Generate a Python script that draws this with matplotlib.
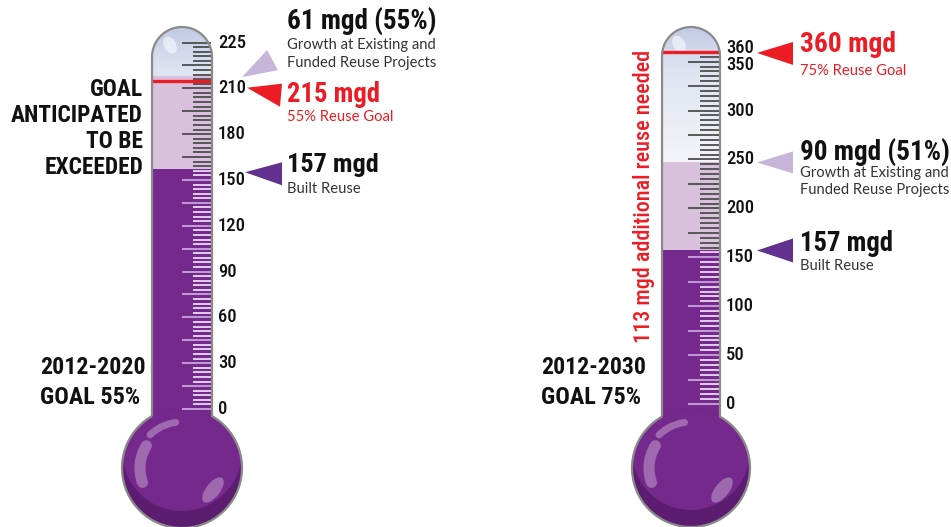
import matplotlib.pyplot as plt
import numpy as np
from matplotlib import font_manager
from matplotlib.path import Path
from matplotlib.patches import Circle, Ellipse, PathPatch
from matplotlib.transforms import Affine2D
from matplotlib.colors import LinearSegmentedColormap

# fuentes: se busca una condensada para numeros y titulos
entries = font_manager.fontManager.ttflist
names = {f.name for f in entries}
STRETCH = 'normal'
if 'Liberation Sans Narrow' in names:
    COND = 'Liberation Sans Narrow'
elif 'Roboto Condensed' in names:
    COND = 'Roboto Condensed'
elif any(f.name == 'DejaVu Sans' and f.stretch == 'condensed' for f in entries):
    COND, STRETCH = 'DejaVu Sans', 'condensed'
else:
    COND = 'Roboto'
SMALL = 'Lato' if 'Lato' in names else 'DejaVu Sans'

# datos
periods = ['2012-2020', '2012-2030']
goal_pct = ['55%', '75%']
goal_mgd = [215, 360]
built_mgd = [157, 157]
growth_mgd = [61, 90]
growth_pct = ['55%', '51%']
tick_vals = [[0, 30, 60, 90, 120, 150, 180, 210, 240],
             [0, 50, 100, 150, 200, 250, 300, 350, 360]]
tick_labels = [['0', '30', '60', '90', '120', '150', '180', '210', '225'],
               ['0', '50', '100', '150', '200', '250', '300', '350', '360']]
exceeded_lines = ['GOAL', 'ANTICIPATED', 'TO BE', 'EXCEEDED']

# colores
PURPLE = '#76298d'
DARK = '#5c1d70'
LIGHT = '#d9c1de'
RED = '#ec1c24'
TRI_LIGHT = '#c6b5d9'
TRI_PURPLE = '#62308f'
GRAY = '#8a8a8a'

W, H = 951, 527
fig = plt.figure(figsize=(W / 100, H / 100), dpi=100)
renderer = fig.canvas.get_renderer()
to_fit = []  # (texto, ancho objetivo en pixeles)


def fit(t, width):
    to_fit.append((t, width))
    return t


def fit_size(sample, width, **kw):
    t = fig.text(0, 0, sample, fontsize=20, **kw)
    w = t.get_window_extent(renderer).width
    t.remove()
    return 20 * width / w


TICK_FS = fit_size('210', 28, family=COND, fontstretch=STRETCH, fontweight='medium')
GOAL_FS = fit_size('ANTICIPATED', 132, family=COND, fontstretch=STRETCH, fontweight='bold')

# geometria de cada termometro (pixeles, y hacia abajo)
layout = [
    dict(cx=182, hw=30, zero=409, k=1.527, by=468, r=60, cy=57,
         major=15, minor=3, top=240, long_len=30, short_len=19, text_x=287,
         tri_growth=[(242, 1), (267, -26), (278, -6)],
         tri_goal=[(247, 7), (282, 3), (280, 26)],
         tri_built=[(245, 3), (282, -7), (282, 16)],
         growth_txt=[-54, -31, -13], goal_txt=[14, 36], built_txt=[-4, 20],
         widths=[150, 93, 92], nudge={}),
    dict(cx=691, hw=29, zero=404, k=0.978, by=468, r=59, cy=56,
         major=25, minor=5, top=355, long_len=32, short_len=20, text_x=800,
         tri_growth=[(757, 0), (793, -11), (793, 11)],
         tri_goal=[(757, 1), (793, -10), (793, 13)],
         tri_built=[(757, 0), (793, -12), (793, 12)],
         growth_txt=[-10, 11, 28], goal_txt=[-7, 19], built_txt=[-7, 16],
         widths=[150, 96, 93], nudge={360: 4, 350: -3}),
]

glass = LinearSegmentedColormap.from_list(
    'glass', [(0, '#c2cbe5'), (0.10, '#dfe4f1'), (0.30, '#f3f4f8'), (1, '#f5f5f8')])


def thermometer(i, L):
    ax = fig.add_axes([0, 0, 1, 1])
    ax.axis('off')
    k, zero = L['k'], L['zero']
    pxT = Affine2D().scale(1, -1.0 / k).translate(0, zero / k) + ax.transData
    cx, hw, r, by, cy = L['cx'], L['hw'], L['r'], L['by'], L['cy']

    # contorno del tubo y del bulbo
    jy = by - np.sqrt(r ** 2 - hw ** 2)
    t = np.linspace(np.pi, 0, 60)
    th0 = np.degrees(np.arctan2(jy - by, hw))
    a = np.radians(np.linspace(th0, 180 - th0, 150))
    xs = np.concatenate([[cx - hw], cx + hw * np.cos(t), [cx + hw], cx + r * np.cos(a)])
    ys = np.concatenate([[jy], cy - hw * np.sin(t), [jy], by + r * np.sin(a)])
    outline = Path(np.column_stack([xs, ys]))

    v_bulb = (zero - by) / k
    v_capt = (zero - (cy - hw)) / k

    # vidrio
    grad = np.linspace(0, 1, 256).reshape(-1, 1)
    im = ax.imshow(grad, extent=(cx - hw, cx + hw, v_bulb, v_capt), origin='upper',
                   aspect='auto', cmap=glass, zorder=1)
    im.set_clip_path(outline, pxT)
    ax.add_patch(Ellipse((cx - 12, cy - 12), 12, 18, angle=-30, transform=pxT,
                         color='white', alpha=0.55, zorder=1.5, lw=0))

    # niveles
    built, growth, goal = built_mgd[i], growth_mgd[i], goal_mgd[i]
    bars = ax.bar(cx, built - v_bulb, bottom=v_bulb, width=2 * hw, color=PURPLE, zorder=2)
    bars2 = ax.bar(cx, growth, bottom=built, width=2 * hw, color=LIGHT, zorder=2)
    for p in list(bars) + list(bars2):
        p.set_clip_path(outline, pxT)

    # bulbo
    bulb = Circle((cx, by), r, transform=pxT, color=DARK, zorder=3, lw=0)
    ax.add_patch(bulb)
    top = Circle((cx, by - 17), r, transform=pxT, color=PURPLE, zorder=3, lw=0)
    ax.add_patch(top)
    top.set_clip_path(bulb)
    for rad, t1, t2, lw in [(46, 226, 262, 5), (42, 160, 212, 8)]:
        aa = np.radians(np.linspace(t1, t2, 40))
        ax.plot(cx + rad * np.cos(aa), by + rad * np.sin(aa), color='white', alpha=0.3,
                lw=lw, solid_capstyle='round', transform=pxT, zorder=4)
    ax.add_patch(Ellipse((cx + 31, by + 22), 14, 30, angle=38, transform=pxT,
                         color='white', alpha=0.3, lw=0, zorder=4))

    # marcas de la escala
    right = cx + hw
    major = np.arange(0, L['top'] + 1, L['major'])
    minor = [v for v in np.arange(0, L['top'] + 1, L['minor']) if v % L['major']]
    for vals, ln, light in [(major, L['long_len'], '#c9a5dc'), (minor, L['short_len'], '#eadcf2')]:
        cols = [light if v < built else '#4d4d4d' for v in vals]
        ax.hlines(vals, right - ln, right - 1, colors=cols, lw=1.3, zorder=5)

    # linea de meta
    ax.hlines(goal, cx - hw, cx + hw, colors=RED, lw=2.4, zorder=6)

    # contorno
    ax.add_patch(PathPatch(outline, transform=pxT, facecolor='none', edgecolor=GRAY,
                           lw=1.6, zorder=7))

    # etiquetas de la escala
    for v, lab in zip(tick_vals[i], tick_labels[i]):
        ax.annotate(lab, xy=(right + 6, v), xytext=(0, L['nudge'].get(v, 0)),
                    textcoords='offset pixels', va='center', ha='left',
                    family=COND, fontstretch=STRETCH, fontweight='medium',
                    fontsize=TICK_FS, color='#111111')

    # triangulos
    for pts, lev, col in [(L['tri_growth'], built + growth, TRI_LIGHT),
                          (L['tri_goal'], goal, RED),
                          (L['tri_built'], built, TRI_PURPLE)]:
        px = np.array([p[0] for p in pts])
        dy = np.array([p[1] for p in pts])
        ax.fill(px, lev - dy / k, color=col, lw=0, zorder=5)

    tx = L['text_x']

    def big(txt, lev, dy, col, width):
        t = ax.annotate(txt, xy=(tx, lev), xytext=(0, -dy), textcoords='offset pixels',
                        va='center', ha='left', fontsize=18, color=col, fontweight='bold',
                        family=COND, fontstretch=STRETCH)
        fit(t, width)

    def small(txt, lev, dy, col):
        ax.annotate(txt, xy=(tx, lev), xytext=(0, -dy), textcoords='offset pixels',
                    va='center', ha='left', fontsize=10.6, color=col, family=SMALL)

    g = L['growth_txt']
    w = L['widths']
    big(f'{growth} mgd ({growth_pct[i]})', built + growth, g[0], '#111111', w[0])
    small('Growth at Existing and', built + growth, g[1], '#333333')
    small('Funded Reuse Projects', built + growth, g[2], '#333333')
    big(f'{goal} mgd', goal, L['goal_txt'][0], RED, w[1])
    small(f'{goal_pct[i]} Reuse Goal', goal, L['goal_txt'][1], RED)
    big(f'{built} mgd', built, L['built_txt'][0], '#111111', w[2])
    small('Built Reuse', built, L['built_txt'][1], '#333333')

    ax.set_xlim(0, W)
    ax.set_ylim((zero - H) / k, zero / k)
    return ax, pxT


axL, pxL = thermometer(0, layout[0])
axR, pxR = thermometer(1, layout[1])

# textos de periodo
for i, (ax_, pxT, x) in enumerate([(axL, pxL, 40), (axR, pxR, 541)]):
    t1 = ax_.text(x, 368, periods[i], transform=pxT, family=COND, fontstretch=STRETCH,
                  fontweight='bold', fontsize=18, va='center', ha='left', color='#111111')
    t2 = ax_.text(x, 398, f'GOAL {goal_pct[i]}', transform=pxT, family=COND,
                  fontstretch=STRETCH, fontweight='bold', fontsize=18, va='center',
                  ha='left', color='#111111')
    fit(t1, 105)
    fit(t2, 100)

for y, s in zip([89, 115, 141, 167], exceeded_lines):
    axL.text(143, y, s, transform=pxL, family=COND, fontstretch=STRETCH,
             fontweight='bold', fontsize=GOAL_FS, va='center', ha='right', color='#111111')

needed = goal_mgd[1] - built_mgd[1] - growth_mgd[1]
t = axR.text(644, 196, f'{needed} mgd additional reuse needed', transform=pxR, rotation=90,
             family=COND, fontstretch=STRETCH, fontweight='medium', fontsize=16, color=RED,
             va='center', ha='center')
fit(t, 292)

# ajuste de tamanos segun el ancho medido
for t, width in to_fit:
    bb = t.get_window_extent(renderer)
    w = max(bb.width, bb.height) if t.get_rotation() else bb.width
    t.set_fontsize(t.get_fontsize() * width / w)

fig.savefig('out.png', dpi=100)
